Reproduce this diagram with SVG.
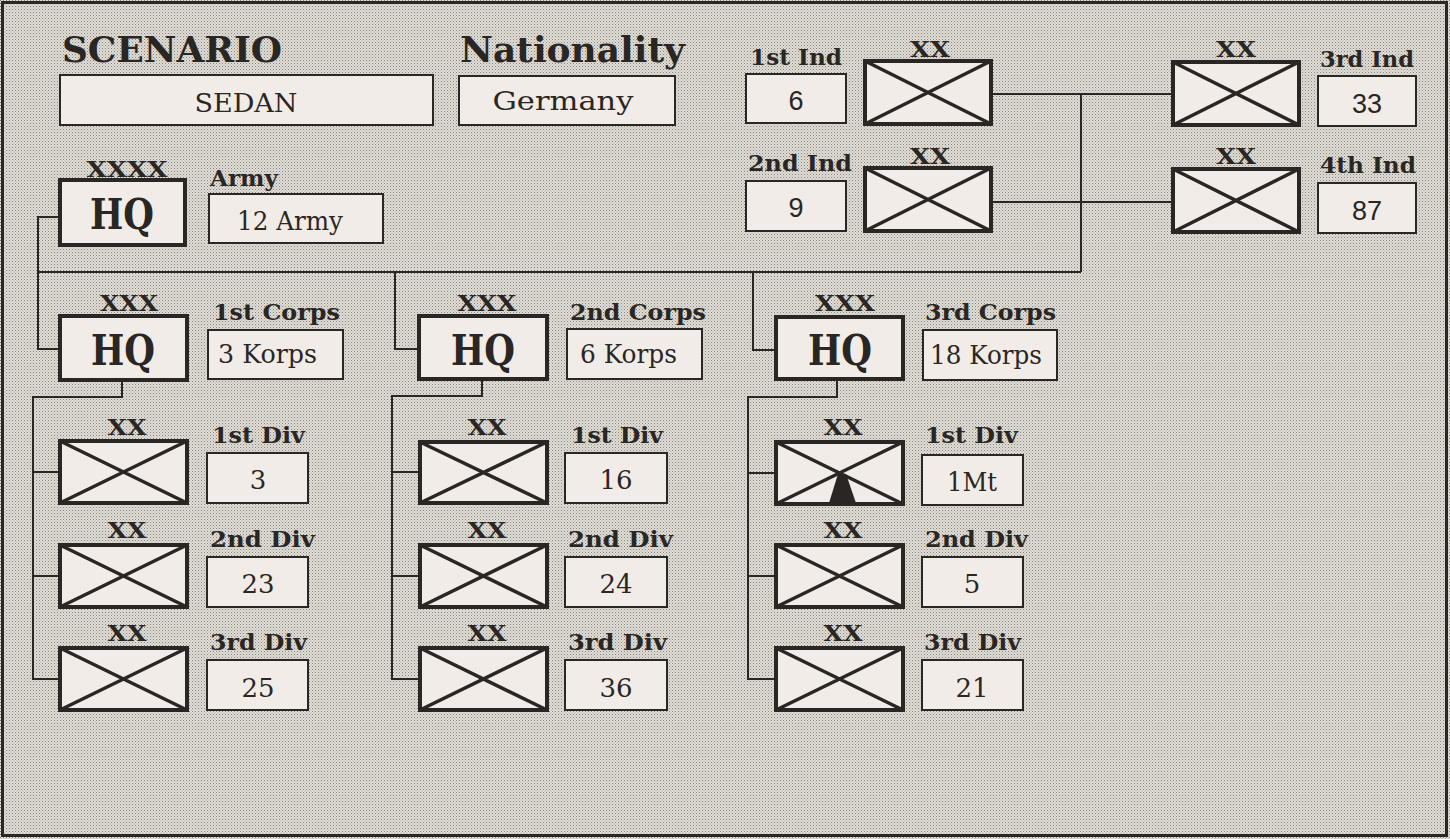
<svg xmlns="http://www.w3.org/2000/svg" width="1450" height="839" viewBox="0 0 1450 839">
<defs>
<pattern id="dots" width="3" height="3" patternUnits="userSpaceOnUse">
<rect width="3" height="3" fill="#e1ddd7"/>
<rect x="0" y="0" width="1" height="1" fill="#858179"/>
<rect x="1.5" y="1.5" width="1" height="1" fill="#a39f99"/>
</pattern>
<style>
.unit{fill:#f1ece7;stroke:#2a2624;stroke-width:4}
.box{fill:#f1ece7;stroke:#2a2624;stroke-width:2}
.cross{stroke:#2a2624;stroke-width:3.5;fill:none}
.conn{stroke:#2a2624;stroke-width:2;fill:none}
.hd{font-family:"DejaVu Serif","Liberation Serif",serif;font-weight:bold;font-size:36px;fill:#2a2624}
.lbl{font-family:"DejaVu Serif","Liberation Serif",serif;font-weight:bold;font-size:23px;fill:#2a2624}
.ech{font-family:"DejaVu Serif","Liberation Serif",serif;font-weight:bold;font-size:22px;fill:#2a2624;text-anchor:middle}
.hq{font-family:"DejaVu Serif","Liberation Serif",serif;font-weight:bold;font-size:42px;fill:#2a2624;text-anchor:middle}
.val{font-family:"DejaVu Serif","Liberation Serif",serif;font-size:26px;fill:#2a2624;text-anchor:middle}
.vall{font-family:"DejaVu Serif","Liberation Serif",serif;font-size:26px;fill:#2a2624}
.sans{font-family:"Liberation Sans",Arial,sans-serif;font-size:27px;fill:#2a2624;text-anchor:middle}
</style>
</defs>
<rect x="0" y="0" width="1450" height="839" fill="url(#dots)"/>
<rect x="2.5" y="2.5" width="1444" height="833" fill="none" stroke="#2a2624" stroke-width="3"/>

<g id="connectors">
<path class="conn" d="M991,94 H1173 M991,202 H1173 M1081,94 V272 M38,272 H1081"/>
<path class="conn" d="M60,217 H38 V349 H60"/>
<path class="conn" d="M395,272 V349 H419 M753,272 V350 H776"/>
<path class="conn" d="M122,380 V397 H33 V679 H60 M33,472 H60 M33,576 H60"/>
<path class="conn" d="M482,378 V396 H392 V679 H420 M392,472 H420 M392,576 H420"/>
<path class="conn" d="M837,379 V397 H748 V679 H776 M748,473 H776 M748,576 H776"/>
</g>

<g id="scenario">
<text class="hd" x="62" y="62" textLength="220" lengthAdjust="spacingAndGlyphs">SCENARIO</text>
<rect class="box" x="60" y="75" width="373" height="50"/>
<text class="val" x="246" y="112" font-size="29" textLength="103" lengthAdjust="spacingAndGlyphs">SEDAN</text>
</g>
<g id="nationality">
<text class="hd" x="460" y="62" textLength="225" lengthAdjust="spacingAndGlyphs">Nationality</text>
<rect class="box" x="459" y="76" width="216" height="49"/>
<text class="val" x="563" y="110" font-size="29" textLength="141" lengthAdjust="spacingAndGlyphs">Germany</text>
</g>

<g id="army">
<text class="ech" x="127" y="177" textLength="81" lengthAdjust="spacingAndGlyphs">XXXX</text>
<rect class="unit" x="60" y="180" width="125" height="65"/>
<text class="hq" x="122" y="229" textLength="64" lengthAdjust="spacingAndGlyphs">HQ</text>
<text class="lbl" x="210" y="186" textLength="68" lengthAdjust="spacingAndGlyphs">Army</text>
<rect class="box" x="209" y="194" width="174" height="49"/>
<text class="val" x="290" y="230" textLength="106" lengthAdjust="spacingAndGlyphs">12 Army</text>
</g>

<g id="ind1">
<text class="lbl" x="750" y="65" textLength="92" lengthAdjust="spacingAndGlyphs">1st Ind</text>
<rect class="box" x="746" y="74" width="100" height="49"/>
<text class="sans" x="796" y="110">6</text>
<text class="ech" x="930" y="57" textLength="40" lengthAdjust="spacingAndGlyphs">XX</text>
<rect class="unit" x="865" y="61" width="126" height="63"/>
<path class="cross" d="M865,61 L991,124 M991,61 L865,124"/>
</g>
<g id="ind2">
<text class="lbl" x="748" y="171" textLength="104" lengthAdjust="spacingAndGlyphs">2nd Ind</text>
<rect class="box" x="746" y="181" width="100" height="50"/>
<text class="sans" x="796" y="217">9</text>
<text class="ech" x="930" y="164" textLength="40" lengthAdjust="spacingAndGlyphs">XX</text>
<rect class="unit" x="865" y="168" width="126" height="63"/>
<path class="cross" d="M865,168 L991,231 M991,168 L865,231"/>
</g>
<g id="ind3">
<text class="ech" x="1236" y="57" textLength="40" lengthAdjust="spacingAndGlyphs">XX</text>
<rect class="unit" x="1173" y="62" width="126" height="63"/>
<path class="cross" d="M1173,62 L1299,125 M1299,62 L1173,125"/>
<text class="lbl" x="1320" y="67" textLength="94" lengthAdjust="spacingAndGlyphs">3rd Ind</text>
<rect class="box" x="1318" y="76" width="98" height="50"/>
<text class="sans" x="1367" y="113">33</text>
</g>
<g id="ind4">
<text class="ech" x="1236" y="164" textLength="40" lengthAdjust="spacingAndGlyphs">XX</text>
<rect class="unit" x="1173" y="169" width="126" height="63"/>
<path class="cross" d="M1173,169 L1299,232 M1299,169 L1173,232"/>
<text class="lbl" x="1320" y="173" textLength="96" lengthAdjust="spacingAndGlyphs">4th Ind</text>
<rect class="box" x="1318" y="183" width="98" height="50"/>
<text class="sans" x="1367" y="220">87</text>
</g>

<g id="corps1">
<text class="ech" x="129" y="311" textLength="58" lengthAdjust="spacingAndGlyphs">XXX</text>
<rect class="unit" x="60" y="316" width="127" height="64"/>
<text class="hq" x="123" y="365" textLength="64" lengthAdjust="spacingAndGlyphs">HQ</text>
<text class="lbl" x="213" y="320" textLength="127" lengthAdjust="spacingAndGlyphs">1st Corps</text>
<rect class="box" x="208" y="330" width="135" height="49"/>
<text class="vall" x="218" y="363" textLength="99" lengthAdjust="spacingAndGlyphs">3 Korps</text>
</g>
<g id="corps2">
<text class="ech" x="487" y="311" textLength="59" lengthAdjust="spacingAndGlyphs">XXX</text>
<rect class="unit" x="419" y="316" width="128" height="63"/>
<text class="hq" x="483" y="365" textLength="64" lengthAdjust="spacingAndGlyphs">HQ</text>
<text class="lbl" x="570" y="320" textLength="136" lengthAdjust="spacingAndGlyphs">2nd Corps</text>
<rect class="box" x="567" y="329" width="135" height="50"/>
<text class="vall" x="580" y="363" textLength="97" lengthAdjust="spacingAndGlyphs">6 Korps</text>
</g>
<g id="corps3">
<text class="ech" x="845" y="311" textLength="60" lengthAdjust="spacingAndGlyphs">XXX</text>
<rect class="unit" x="776" y="317" width="127" height="62"/>
<text class="hq" x="840" y="365" textLength="64" lengthAdjust="spacingAndGlyphs">HQ</text>
<text class="lbl" x="925" y="320" textLength="131" lengthAdjust="spacingAndGlyphs">3rd Corps</text>
<rect class="box" x="923" y="330" width="134" height="50"/>
<text class="vall" x="930" y="364" textLength="112" lengthAdjust="spacingAndGlyphs">18 Korps</text>
</g>

<g id="c1d1">
<text class="ech" x="127" y="435" textLength="39" lengthAdjust="spacingAndGlyphs">XX</text>
<rect class="unit" x="60" y="441" width="127" height="62"/>
<path class="cross" d="M60,441 L187,503 M187,441 L60,503"/>
<text class="lbl" x="212" y="443" textLength="93" lengthAdjust="spacingAndGlyphs">1st Div</text>
<rect class="box" x="207" y="453" width="101" height="50"/>
<text class="val" x="258" y="489">3</text>
</g>
<g id="c1d2">
<text class="ech" x="127" y="538" textLength="39" lengthAdjust="spacingAndGlyphs">XX</text>
<rect class="unit" x="60" y="545" width="127" height="62"/>
<path class="cross" d="M60,545 L187,607 M187,545 L60,607"/>
<text class="lbl" x="210" y="547" textLength="105" lengthAdjust="spacingAndGlyphs">2nd Div</text>
<rect class="box" x="207" y="557" width="101" height="50"/>
<text class="val" x="258" y="593">23</text>
</g>
<g id="c1d3">
<text class="ech" x="127" y="641" textLength="39" lengthAdjust="spacingAndGlyphs">XX</text>
<rect class="unit" x="60" y="648" width="127" height="62"/>
<path class="cross" d="M60,648 L187,710 M187,648 L60,710"/>
<text class="lbl" x="210" y="650" textLength="97" lengthAdjust="spacingAndGlyphs">3rd Div</text>
<rect class="box" x="207" y="660" width="101" height="50"/>
<text class="val" x="258" y="697">25</text>
</g>

<g id="c2d1">
<text class="ech" x="487" y="435" textLength="39" lengthAdjust="spacingAndGlyphs">XX</text>
<rect class="unit" x="420" y="442" width="127" height="61"/>
<path class="cross" d="M420,442 L547,503 M547,442 L420,503"/>
<text class="lbl" x="571" y="443" textLength="92" lengthAdjust="spacingAndGlyphs">1st Div</text>
<rect class="box" x="565" y="453" width="102" height="50"/>
<text class="val" x="616" y="489">16</text>
</g>
<g id="c2d2">
<text class="ech" x="487" y="538" textLength="39" lengthAdjust="spacingAndGlyphs">XX</text>
<rect class="unit" x="420" y="545" width="127" height="62"/>
<path class="cross" d="M420,545 L547,607 M547,545 L420,607"/>
<text class="lbl" x="568" y="547" textLength="105" lengthAdjust="spacingAndGlyphs">2nd Div</text>
<rect class="box" x="565" y="557" width="102" height="50"/>
<text class="val" x="616" y="593">24</text>
</g>
<g id="c2d3">
<text class="ech" x="487" y="641" textLength="39" lengthAdjust="spacingAndGlyphs">XX</text>
<rect class="unit" x="420" y="648" width="127" height="62"/>
<path class="cross" d="M420,648 L547,710 M547,648 L420,710"/>
<text class="lbl" x="568" y="650" textLength="99" lengthAdjust="spacingAndGlyphs">3rd Div</text>
<rect class="box" x="565" y="660" width="102" height="50"/>
<text class="val" x="616" y="697">36</text>
</g>

<g id="c3d1">
<text class="ech" x="843" y="435" textLength="39" lengthAdjust="spacingAndGlyphs">XX</text>
<rect class="unit" x="776" y="442" width="127" height="62"/>
<path class="cross" d="M776,442 L903,504 M903,442 L776,504"/>
<polygon points="838,474 846,474 856,503 829,503" fill="#2a2624"/>
<text class="lbl" x="925" y="443" textLength="93" lengthAdjust="spacingAndGlyphs">1st Div</text>
<rect class="box" x="922" y="455" width="101" height="50"/>
<text class="val" x="972" y="491" textLength="50" lengthAdjust="spacingAndGlyphs">1Mt</text>
</g>
<g id="c3d2">
<text class="ech" x="843" y="538" textLength="39" lengthAdjust="spacingAndGlyphs">XX</text>
<rect class="unit" x="776" y="545" width="127" height="62"/>
<path class="cross" d="M776,545 L903,607 M903,545 L776,607"/>
<text class="lbl" x="925" y="547" textLength="103" lengthAdjust="spacingAndGlyphs">2nd Div</text>
<rect class="box" x="922" y="557" width="101" height="50"/>
<text class="val" x="972" y="593">5</text>
</g>
<g id="c3d3">
<text class="ech" x="843" y="641" textLength="39" lengthAdjust="spacingAndGlyphs">XX</text>
<rect class="unit" x="776" y="648" width="127" height="62"/>
<path class="cross" d="M776,648 L903,710 M903,648 L776,710"/>
<text class="lbl" x="924" y="650" textLength="97" lengthAdjust="spacingAndGlyphs">3rd Div</text>
<rect class="box" x="922" y="660" width="101" height="50"/>
<text class="val" x="972" y="697">21</text>
</g>
</svg>
